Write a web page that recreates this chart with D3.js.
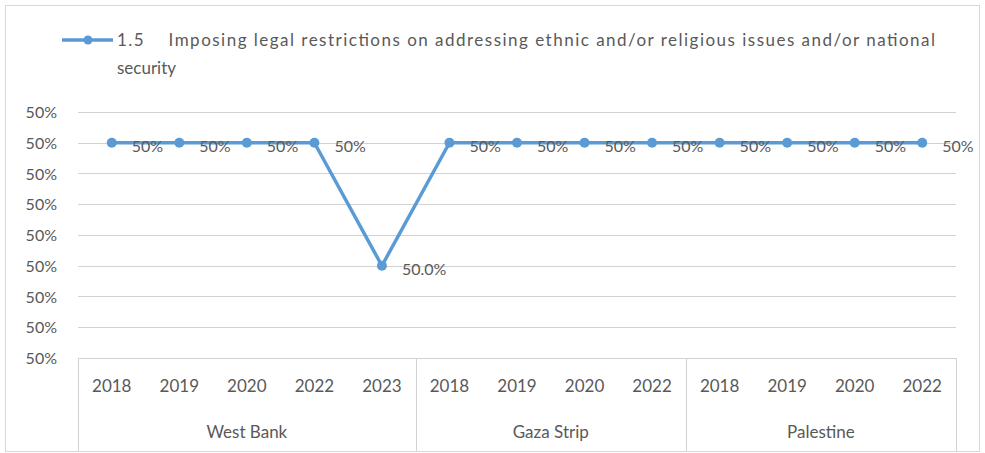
<!DOCTYPE html>
<html>
<head>
<meta charset="utf-8">
<script src="https://d3js.org/d3.v7.min.js"></script>
<style>
  body { margin: 0; background: #fff; }
</style>
</head>
<body>
<div id="chart"></div>
<script>
var width = 985;
var height = 453;

// data
var groups = ["West Bank", "Gaza Strip", "Palestine"];
var years = [
    ["2018", "2019", "2020", "2022", "2023"],
    ["2018", "2019", "2020", "2022"],
    ["2018", "2019", "2020", "2022"]
];
var values = [
    0.50006, 0.50006, 0.50006, 0.50006, 0.49998,
    0.50006, 0.50006, 0.50006, 0.50006,
    0.50006, 0.50006, 0.50006, 0.50006
];
var valueLabels = [
    "50%", "50%", "50%", "50%", "50.0%",
    "50%", "50%", "50%", "50%",
    "50%", "50%", "50%", "50%"
];
var yTicks = [0.49992, 0.49994, 0.49996, 0.49998, 0.5, 0.50002, 0.50004, 0.50006, 0.50008];
var seriesName = "1.5    Imposing legal restrictions on addressing ethnic and/or religious issues and/or national";
var seriesName2 = "security";

var font = "Lato, 'Open Sans', sans-serif";
var textColor = "#595959";
var lineColor = "#5b9bd5";
var gridColor = "#d4d1d1";

var keys = [];
groups.forEach(function (g, gi) {
    years[gi].forEach(function (y) { keys.push(g + "|" + y); });
});

var plotLeft = 78, plotRight = 956, plotTop = 112, plotBottom = 358;

var svg = d3.select("#chart")
    .append("svg")
    .attr("width", width)
    .attr("height", height);

svg.append("rect")
    .attr("x", 5.5)
    .attr("y", 5.5)
    .attr("width", 974)
    .attr("height", 446)
    .attr("fill", "#fff")
    .attr("stroke", "#d9d9d9")

var x = d3.scaleBand()
    .domain(keys)
    .range([plotLeft, plotRight]);

var y = d3.scaleLinear()
    .domain([yTicks[0], yTicks[yTicks.length - 1]])
    .range([plotBottom, plotTop]);

//----------------------------- gridlines + y labels

svg.append("g")
    .selectAll("line")
    .data(yTicks)
    .join("line")
    .attr("x1", plotLeft)
    .attr("x2", plotRight)
    .attr("y1", function (d) { return Math.round(y(d)) + 0.5; })
    .attr("y2", function (d) { return Math.round(y(d)) + 0.5; })
    .attr("stroke", gridColor)
    .attr("stroke-width", 1.2)

svg.append("g")
    .selectAll("text")
    .data(yTicks)
    .join("text")
    .attr("x", 57)
    .attr("y", function (d) { return y(d) + 6; })
    .attr("text-anchor", "end")
    .attr("font-family", font)
    .attr("font-size", 16)
    .style("fill", textColor)
    .text(d3.format(".0%"))

//----------------------------- category axis

var ax = svg.append("g")

ax.append("line")
    .attr("x1", plotLeft).attr("x2", plotRight)
    .attr("y1", plotBottom + 0.5).attr("y2", plotBottom + 0.5)
    .attr("stroke", gridColor)

var idx = 0;
var bounds = [plotLeft];
groups.forEach(function (g, gi) {
    var first = keys[idx];
    var last = keys[idx + years[gi].length - 1];
    var x0 = x(first), x1 = x(last) + x.bandwidth();
    bounds.push(x1);
    ax.append("text")
        .attr("x", (x0 + x1) / 2)
        .attr("y", 438)
        .attr("text-anchor", "middle")
        .attr("font-family", font)
        .attr("font-size", 17)
        .style("fill", textColor)
        .text(g)
    idx += years[gi].length;
});

ax.selectAll("line.sep")
    .data(bounds)
    .join("line")
    .attr("class", "sep")
    .attr("x1", function (d) { return Math.round(d) + 0.5; })
    .attr("x2", function (d) { return Math.round(d) + 0.5; })
    .attr("y1", plotBottom)
    .attr("y2", 451)
    .attr("stroke", gridColor)

ax.selectAll("text.yr")
    .data(keys)
    .join("text")
    .attr("class", "yr")
    .attr("x", function (d) { return x(d) + x.bandwidth() / 2; })
    .attr("y", 392)
    .attr("text-anchor", "middle")
    .attr("font-family", font)
    .attr("font-size", 17)
    .style("fill", textColor)
    .text(function (d) { return d.split("|")[1]; })

//----------------------------- series

var pts = keys.map(function (k, i) { return [x(k) + x.bandwidth() / 2, y(values[i])]; });

svg.append("path")
    .attr("d", d3.line()(pts))
    .attr("fill", "none")
    .attr("stroke", lineColor)
    .attr("stroke-width", 3.5)
    .attr("stroke-linejoin", "round")

svg.append("g")
    .selectAll("circle")
    .data(pts)
    .join("circle")
    .attr("cx", function (d) { return d[0]; })
    .attr("cy", function (d) { return d[1]; })
    .attr("r", 5)
    .attr("fill", lineColor)

svg.append("g")
    .selectAll("text")
    .data(pts)
    .join("text")
    .attr("x", function (d) { return d[0] + 20; })
    .attr("y", function (d) { return d[1] + 9; })
    .attr("font-family", font)
    .attr("font-size", 16)
    .style("fill", textColor)
    .text(function (d, i) { return valueLabels[i]; })

//----------------------------- legend

var lg = svg.append("g")

lg.append("line")
    .attr("x1", 62).attr("x2", 113)
    .attr("y1", 40).attr("y2", 40)
    .attr("stroke", lineColor)
    .attr("stroke-width", 3.5)

lg.append("circle")
    .attr("cx", 88).attr("cy", 40).attr("r", 4.5)
    .attr("fill", lineColor)

lg.append("text")
    .attr("x", 117)
    .attr("y", 46)
    .attr("font-family", font)
    .attr("font-size", 17)
    .attr("textLength", 818)
    .attr("lengthAdjust", "spacing")
    .style("white-space", "pre")
    .style("fill", textColor)
    .text(seriesName)

lg.append("text")
    .attr("x", 117)
    .attr("y", 74)
    .attr("font-family", font)
    .attr("font-size", 17)
    .style("fill", textColor)
    .text(seriesName2)
</script>
</body>
</html>
